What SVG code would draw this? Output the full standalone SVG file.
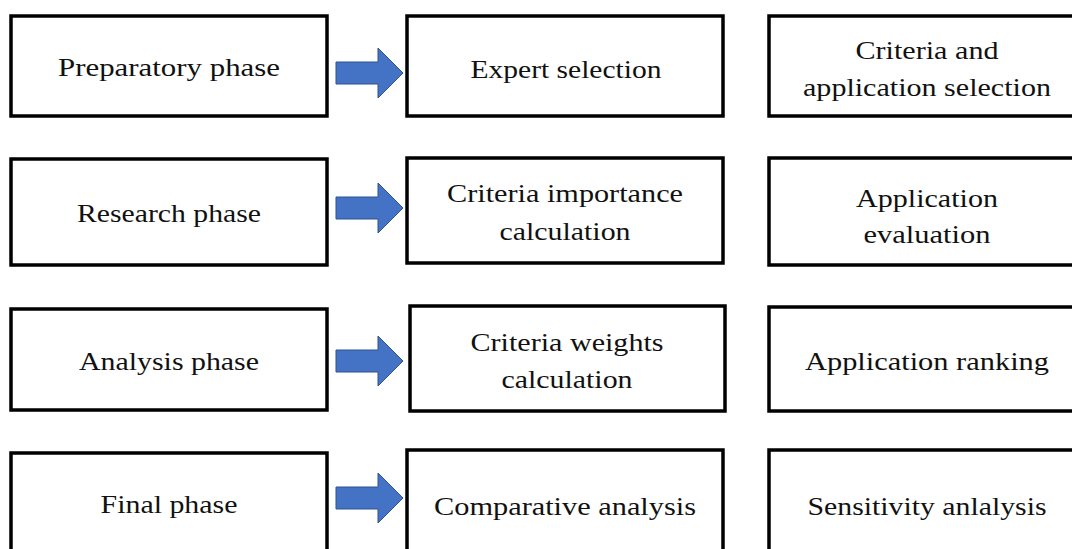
<svg xmlns="http://www.w3.org/2000/svg" width="1072" height="549" viewBox="0 0 1072 549">
<style>
.box{fill:#fff;stroke:#000;stroke-width:3.5}
.t{font-family:"Liberation Serif","DejaVu Serif",serif;font-size:26px;fill:#111;text-anchor:middle}
.arr{fill:#4472c4;stroke:#2f528f;stroke-width:1}
</style>
<defs>
<path id="arrow" d="M0,-11 H42 V-25 L67,0 L42,25 V11 H0 Z"/>
</defs>
<rect width="1072" height="549" fill="#fff"/>
<g id="connectors">
<use href="#arrow" class="arr" x="336" y="73"/>
<use href="#arrow" class="arr" x="336" y="208"/>
<use href="#arrow" class="arr" x="336" y="361"/>
<use href="#arrow" class="arr" x="336" y="498"/>
</g>
<g id="n1"><rect class="box" x="11" y="16" width="316" height="100"/><text class="t" x="169" y="76" textLength="222" lengthAdjust="spacingAndGlyphs">Preparatory phase</text></g>
<g id="n2"><rect class="box" x="407" y="16" width="316" height="100"/><text class="t" x="566" y="78" textLength="191" lengthAdjust="spacingAndGlyphs">Expert selection</text></g>
<g id="n3"><rect class="box" x="769" y="16" width="330" height="100"/><text class="t" x="927" y="59" textLength="143" lengthAdjust="spacingAndGlyphs">Criteria and</text><text class="t" x="927" y="96" textLength="248" lengthAdjust="spacingAndGlyphs">application selection</text></g>
<g id="n4"><rect class="box" x="11" y="159" width="316" height="106"/><text class="t" x="169" y="222" textLength="184" lengthAdjust="spacingAndGlyphs">Research phase</text></g>
<g id="n5"><rect class="box" x="407" y="158" width="316" height="105"/><text class="t" x="565" y="202" textLength="236" lengthAdjust="spacingAndGlyphs">Criteria importance</text><text class="t" x="565" y="240" textLength="131" lengthAdjust="spacingAndGlyphs">calculation</text></g>
<g id="n6"><rect class="box" x="769" y="158" width="330" height="107"/><text class="t" x="927" y="207" textLength="142" lengthAdjust="spacingAndGlyphs">Application</text><text class="t" x="927" y="243" textLength="127" lengthAdjust="spacingAndGlyphs">evaluation</text></g>
<g id="n7"><rect class="box" x="11" y="309" width="316" height="101"/><text class="t" x="169" y="370" textLength="180" lengthAdjust="spacingAndGlyphs">Analysis phase</text></g>
<g id="n8"><rect class="box" x="410" y="306" width="315" height="105"/><text class="t" x="567" y="351" textLength="193" lengthAdjust="spacingAndGlyphs">Criteria weights</text><text class="t" x="567" y="388" textLength="131" lengthAdjust="spacingAndGlyphs">calculation</text></g>
<g id="n9"><rect class="box" x="769" y="307" width="330" height="104"/><text class="t" x="927" y="370" textLength="244" lengthAdjust="spacingAndGlyphs">Application ranking</text></g>
<g id="n10"><rect class="box" x="11" y="453" width="316" height="120"/><text class="t" x="169" y="513" textLength="137" lengthAdjust="spacingAndGlyphs">Final phase</text></g>
<g id="n11"><rect class="box" x="407" y="450" width="316" height="120"/><text class="t" x="565" y="515" textLength="262" lengthAdjust="spacingAndGlyphs">Comparative analysis</text></g>
<g id="n12"><rect class="box" x="769" y="450" width="330" height="120"/><text class="t" x="927" y="515" textLength="239" lengthAdjust="spacingAndGlyphs">Sensitivity anlalysis</text></g>
</svg>
